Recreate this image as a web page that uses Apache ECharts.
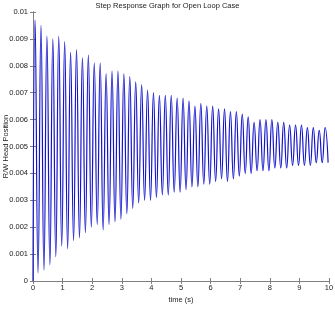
<!DOCTYPE html>
<html>
<head>
<meta charset="utf-8">
<script src="https://cdn.jsdelivr.net/npm/echarts@6/dist/echarts.min.js"></script>
<style>
  html, body { margin: 0; padding: 0; background: #fff; }
  #main { width: 335px; height: 310px; }
</style>
</head>
<body>
<div id="main"></div>
<script>
// peak / trough values, one pair per 0.2 s cycle
var peaks = [
  0.0097, 0.0095, 0.0091, 0.0090, 0.0091, 0.0089, 0.0085, 0.0086, 0.0083, 0.0084,
  0.0081, 0.0081, 0.0077, 0.0078, 0.0078, 0.0077, 0.0076, 0.0074, 0.0073, 0.0071,
  0.0070, 0.0069, 0.0069, 0.0069, 0.0068, 0.0068, 0.0067, 0.0065, 0.0066, 0.0065,
  0.0065, 0.0064, 0.0064, 0.0063, 0.0063, 0.0062, 0.0061, 0.0059, 0.0060, 0.0060,
  0.0060, 0.0059, 0.0059, 0.0058, 0.0058, 0.0058, 0.0057, 0.0057, 0.0056, 0.0057
];
var troughs = [
  0.0003, 0.0004, 0.0006, 0.0009, 0.0013, 0.0012, 0.0015, 0.0016, 0.0018, 0.0020,
  0.0021, 0.0019, 0.0021, 0.0022, 0.0023, 0.0025, 0.0027, 0.0029, 0.0030, 0.0030,
  0.0031, 0.0032, 0.0032, 0.0033, 0.0033, 0.0034, 0.0035, 0.0035, 0.0036, 0.0036,
  0.0037, 0.0038, 0.0037, 0.0038, 0.0039, 0.0040, 0.0040, 0.0041, 0.0041, 0.0041,
  0.0042, 0.0042, 0.0042, 0.0043, 0.0043, 0.0043, 0.0043, 0.0044, 0.0044, 0.0044
];
var period = 0.2;      // s, counted from the picture
var firstPeak = 0.07;  // s
var xTicks = [0, 10, 1];
var yTicks = [0, 0.01, 0.001];

var data = [[0, 0]];
for (var i = 0; i < peaks.length; i++) {
  var tp = firstPeak + i * period;
  data.push([+tp.toFixed(3), peaks[i]]);
  data.push([+(tp + period / 2).toFixed(3), troughs[i]]);
}

var axisGray = '#7f7f7f';
var font = 'Liberation Sans, Arial, sans-serif';

var myChart = echarts.init(document.getElementById('main'));
myChart.setOption({
  backgroundColor: '#fff',
  animation: false,
  title: {
    text: 'Step Response Graph for Open Loop Case',
    left: 'center',
    top: -3,
    textStyle: { fontSize: 7.5, fontWeight: 'normal', color: '#222', fontFamily: font }
  },
  grid: { left: 33, right: 6, top: 12, bottom: 29, containLabel: false, outerBoundsMode: 'none' },
  xAxis: [{
    type: 'value',
    min: xTicks[0], max: xTicks[1], interval: xTicks[2],
    name: 'time (s)',
    nameLocation: 'middle',
    nameGap: 15,
    nameMoveOverlap: false,
    nameTextStyle: { fontSize: 7.5, color: '#222', fontFamily: font },
    axisLine: { lineStyle: { color: axisGray } },
    axisTick: { inside: true, length: 3, lineStyle: { color: axisGray } },
    axisLabel: { fontSize: 7.5, color: '#222', margin: 3, fontFamily: font },
    splitLine: { show: false }
  }, {
    type: 'value', position: 'top',
    min: xTicks[0], max: xTicks[1], interval: xTicks[2],
    axisLine: { show: true, lineStyle: { color: axisGray } },
    axisTick: { inside: true, length: 3, lineStyle: { color: axisGray } },
    axisLabel: { show: false },
    splitLine: { show: false }
  }],
  yAxis: [{
    type: 'value',
    min: yTicks[0], max: yTicks[1], interval: yTicks[2],
    name: 'R/W Head Position',
    nameLocation: 'middle',
    nameGap: 23,
    nameMoveOverlap: false,
    nameTextStyle: { fontSize: 7.5, color: '#222', fontFamily: font },
    axisLine: { show: true, lineStyle: { color: axisGray } },
    axisTick: { show: true, inside: true, length: 3, lineStyle: { color: axisGray } },
    axisLabel: {
      fontSize: 7.5, color: '#222', margin: 5, fontFamily: font,
      formatter: function (v) { return v === 0 ? '0' : String(+v.toFixed(3)); }
    },
    splitLine: { show: false }
  }, {
    type: 'value', position: 'right',
    min: yTicks[0], max: yTicks[1], interval: yTicks[2],
    axisLine: { show: true, lineStyle: { color: axisGray } },
    axisTick: { show: true, inside: true, length: 3, lineStyle: { color: axisGray } },
    axisLabel: { show: false },
    splitLine: { show: false }
  }],
  series: [{
    type: 'line',
    data: data,
    smooth: 0.5,
    showSymbol: false,
    lineStyle: { color: '#1414cc', width: 1.2 }
  }]
});
</script>
</body>
</html>
